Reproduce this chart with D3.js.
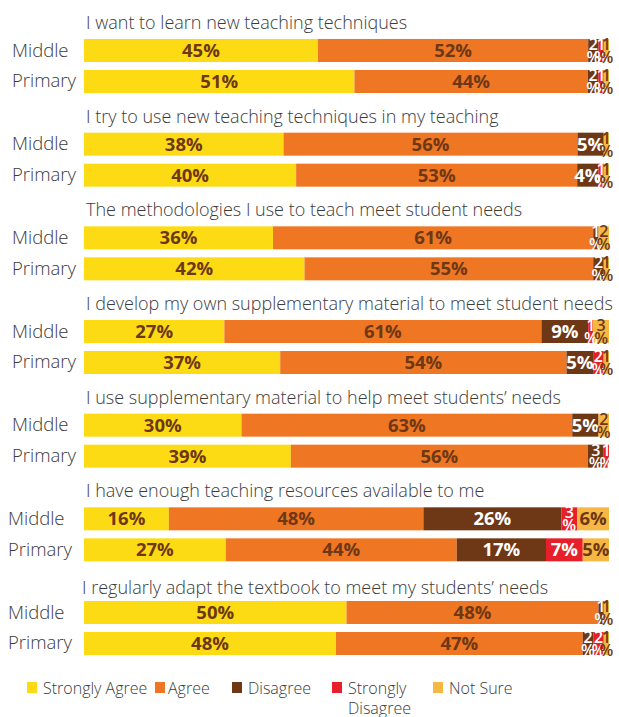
<!DOCTYPE html>
<html><head><meta charset="utf-8">
<script src="https://cdn.jsdelivr.net/npm/d3@7"></script>
<style>
html,body{margin:0;padding:0;background:#fff;}
svg{display:block;}
</style></head>
<body>
<svg id="chart" width="619" height="717"></svg>
<script>
const questions = [
  "I want to learn new teaching techniques",
  "I try to use new teaching techniques in my teaching",
  "The methodologies I use to teach meet student needs",
  "I develop my own supplementary material to meet student needs",
  "I use supplementary material to help meet students\u2019 needs",
  "I have enough teaching resources available to me",
  "I regularly adapt the textbook to meet my students\u2019 needs"
];
const rows = ["Middle", "Primary"];
const series = ["Strongly Agree", "Agree", "Disagree", "Strongly Disagree", "Not Sure"];
const colors = ["#FCDB14", "#EF7623", "#6E3816", "#E61F2A", "#F6B842"];
const labelColors = ["#6E3816", "#6E3816", "#ffffff", "#ffffff", "#6E3816"];
// values per question: [Strongly Agree, Agree, Disagree, Strongly Disagree, Not Sure]
const middleValues = [
  [45, 52, 2, 1, 1],
  [38, 56, 5, 0, 1],
  [36, 61, 1, 0, 2],
  [27, 61, 9, 1, 3],
  [30, 63, 5, 0, 2],
  [16, 48, 26, 3, 6],
  [50, 48, 1, 0, 1]
];
const primaryValues = [
  [51, 44, 2, 1, 1],
  [40, 53, 4, 1, 1],
  [42, 55, 2, 0, 1],
  [37, 54, 5, 2, 1],
  [39, 56, 3, 1, 0],
  [27, 44, 17, 7, 5],
  [48, 47, 2, 2, 1]
];

const svg = d3.select("#chart");
const font = "'Open Sans', Lato, sans-serif";
const textColor = "#3b3b3b";

const groupY = d3.scalePoint().domain(d3.range(questions.length)).range([39, 601]);
const rowY = d3.scaleBand().domain(rows).range([0, 54]).paddingInner(0.258);
const xLeft = 84, xRight = 609;

questions.forEach((q, gi) => {
  const g = svg.append("g").attr("transform", `translate(0,${groupY(gi)})`);
  g.append("text")
    .attr("x", gi === 6 ? 82 : 86).attr("y", gi === 6 ? -7 : -10)
    .attr("font-family", font).attr("font-weight", 300)
    .attr("font-size", 18).attr("fill", textColor)
    .text(q);
  const data = [middleValues[gi], primaryValues[gi]];
  rows.forEach((r, ri) => {
    const vals = data[ri];
    const total = d3.sum(vals);
    const x = d3.scaleLinear().domain([0, total]).range([xLeft, xRight]);
    const y0 = rowY(r), h = rowY.bandwidth();
    g.append("text")
      .attr("x", gi >= 5 ? 8 : 12).attr("y", y0 + h / 2 + 6)
      .attr("font-family", font).attr("font-weight", 300)
      .attr("font-size", 18.5).attr("fill", textColor)
      .text(r);
    const stack = [];
    let acc = 0;
    vals.forEach((v, si) => { stack.push({v, si, a: acc, b: acc + v}); acc += v; });
    g.selectAll(null).data(stack.filter(d => d.v > 0)).join("rect")
      .attr("x", d => x(d.a)).attr("width", d => x(d.b) - x(d.a))
      .attr("y", y0).attr("height", h)
      .attr("fill", d => colors[d.si]);
    stack.filter(d => d.v > 0).forEach(d => {
      const cx = (x(d.a) + x(d.b)) / 2;
      if (d.v >= 4) {
        g.append("text")
          .attr("x", cx).attr("y", y0 + h / 2 + 6.5)
          .attr("text-anchor", "middle")
          .attr("font-family", font).attr("font-weight", 700)
          .attr("font-size", 18.5).attr("fill", labelColors[d.si])
          .text(d.v + "%");
      } else {
        g.append("text")
          .attr("x", cx).attr("y", y0 + 11)
          .attr("text-anchor", "middle")
          .attr("font-family", font).attr("font-weight", 600)
          .attr("font-size", 16).attr("fill", labelColors[d.si])
          .text(d.v);
        g.append("text")
          .attr("x", cx).attr("y", y0 + h + 1)
          .attr("text-anchor", "middle")
          .attr("font-family", font).attr("font-weight", 600)
          .attr("font-size", 16).attr("fill", labelColors[d.si])
          .text("%");
      }
    });
  });
});

// legend
const legendX = [27, 155, 232, 332, 433];
const legend = svg.append("g").attr("transform", "translate(0,682)");
series.forEach((s, i) => {
  legend.append("rect").attr("x", legendX[i]).attr("y", 0)
    .attr("width", 10).attr("height", 11).attr("fill", colors[i]);
  const words = s === "Strongly Disagree" ? ["Strongly", "Disagree"] : [s];
  words.forEach((w, wi) => {
    legend.append("text")
      .attr("x", legendX[i] + (i === 1 ? 13 : 16)).attr("y", 12 + wi * 20)
      .attr("font-family", font).attr("font-weight", 300)
      .attr("font-size", 16).attr("fill", textColor)
      .text(w);
  });
});
</script>
</body></html>
